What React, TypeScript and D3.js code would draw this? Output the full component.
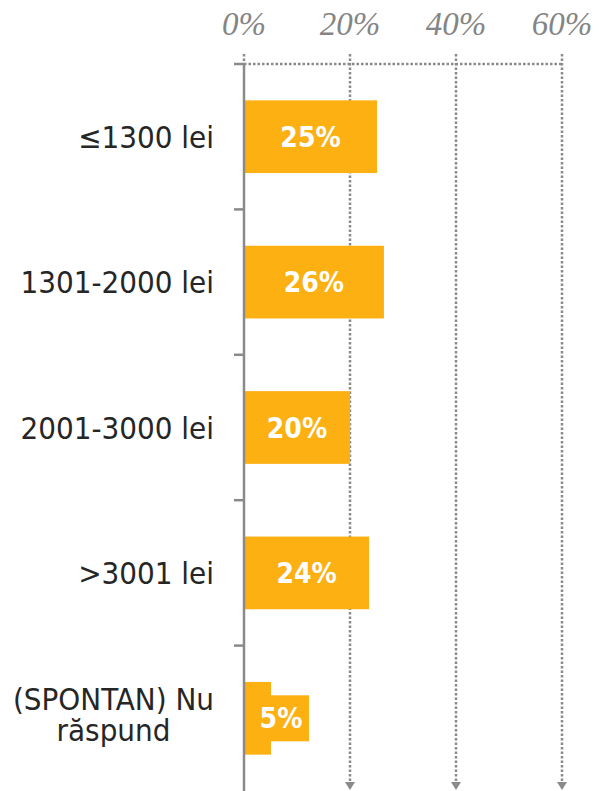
import * as React from "react";
import * as d3 from "d3";

// values (bar length, in %)
const categories = ["≤1300 lei", "1301-2000 lei", "2001-3000 lei", ">3001 lei", "(SPONTAN) Nu\nrăspund"];
const values = [25.1, 26.4, 20.0, 23.6, 5.1];
const ticks = [0, 20, 40, 60];

const W = 599;
const H = 791;
const BAR = "#FDB012";
const GRID = "#8a8a8a";
const SANS = "'DejaVu Sans Condensed', 'DejaVu Sans', sans-serif";

export default function App() {
  const node = React.useRef<SVGSVGElement>(null);

  React.useEffect(() => {
    const svg = d3.select(node.current);
    svg.selectAll("*").remove();

    const x = d3.scaleLinear().domain([0, 60]).range([244, 562]);
    const y = d3.scaleBand().domain(categories).range([64, H]).paddingInner(0.5).paddingOuter(0.25);
    const x0 = x(0);

    // tick labels on top
    svg.append("g")
      .selectAll("text")
      .data(ticks)
      .join("text")
      .attr("x", d => x(d))
      .attr("y", 35)
      .attr("text-anchor", "middle")
      .attr("fill", "#858585")
      .style("font-family", "'Liberation Serif', serif")
      .style("font-style", "italic")
      .style("font-size", "33px")
      .text(d => d + "%");

    // dotted grid
    const grid = svg.append("g")
      .attr("stroke", GRID)
      .attr("stroke-width", 2.5)
      .attr("stroke-dasharray", "2.5,2");
    grid.append("line")
      .attr("x1", x0).attr("x2", x(60))
      .attr("y1", 64).attr("y2", 64);
    grid.selectAll(".v")
      .data(ticks.slice(1))
      .join("line")
      .attr("x1", d => x(d)).attr("x2", d => x(d))
      .attr("y1", 54).attr("y2", 783);
    grid.append("line")
      .attr("x1", x0).attr("x2", x0)
      .attr("y1", 54).attr("y2", 64);

    // arrow heads
    svg.append("g")
      .selectAll("path")
      .data(ticks.slice(1))
      .join("path")
      .attr("fill", GRID)
      .attr("d", d => `M${x(d) - 5},782L${x(d) + 5},782L${x(d)},790Z`);

    // bars
    svg.append("g")
      .selectAll("rect")
      .data(values)
      .join("rect")
      .attr("x", x0)
      .attr("y", (d, i) => y(categories[i]))
      .attr("width", d => x(d) - x0)
      .attr("height", y.bandwidth())
      .attr("fill", BAR);

    // value labels with their own box
    const lab = svg.append("g");
    values.forEach((v, i) => {
      const cy = y(categories[i]) + y.bandwidth() / 2;
      const cx = Math.max((x0 + x(v)) / 2, x0 + 37);
      lab.append("rect")
        .attr("x", Math.max(cx - 36, x0 + 1))
        .attr("y", cy - 23)
        .attr("width", 64)
        .attr("height", 46)
        .attr("fill", BAR);
      lab.append("text")
        .attr("x", cx)
        .attr("y", cy)
        .attr("dy", "0.36em")
        .attr("text-anchor", "middle")
        .attr("fill", "#fff")
        .style("font-family", SANS)
        .style("font-weight", "bold")
        .style("font-size", "28px")
        .text(Math.round(v) + "%");
    });

    // left axis
    const ax = svg.append("g").attr("stroke", GRID).attr("stroke-width", 2.5);
    ax.append("line").attr("x1", x0).attr("x2", x0).attr("y1", 63).attr("y2", H);
    const bounds = categories.map((c, i) => 64 + i * y.step());
    ax.selectAll(".t")
      .data(bounds)
      .join("line")
      .attr("x1", 234).attr("x2", x0)
      .attr("y1", d => d).attr("y2", d => d);

    // category labels
    const lh = 31;
    const cat = svg.append("g")
      .attr("fill", "#262626")
      .style("font-family", SANS)
      .style("font-size", "31px");
    categories.forEach((c, i) => {
      const lines = c.split("\n");
      const cy = y(c) + y.bandwidth() / 2;
      const t = cat.append("text")
        .attr("text-anchor", lines.length > 1 ? "middle" : "end")
        .attr("y", cy - (lines.length - 1) * (lh / 2) - (lines.length > 1 ? 4 : 0));
      lines.forEach((l, j) => {
        t.append("tspan")
          .attr("x", 214)
          .attr("dy", j === 0 ? "0.36em" : lh + "px")
          .text(l);
      });
      if (lines.length > 1) {
        const w = d3.max(t.selectAll<SVGTSpanElement, unknown>("tspan").nodes(), n => n.getComputedTextLength()) || 0;
        t.selectAll("tspan").attr("x", 214 - w / 2);
      }
    });
  }, []);

  return (
    <svg ref={node} width={W} height={H} style={{ position: "absolute", left: 0, top: 0, background: "#fff" }} />
  );
}
